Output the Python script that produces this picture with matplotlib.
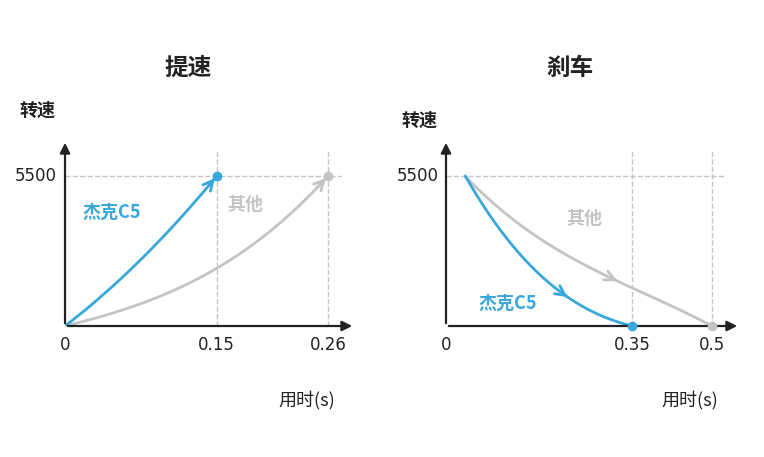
import numpy as np
import matplotlib
matplotlib.use("Agg")
import matplotlib.pyplot as plt

plt.rcParams['font.family'] = ['Noto Sans CJK SC', 'DejaVu Sans']

W, H = 764, 457
BLUE = '#3aa7dc'
GRAY = '#c4c4c6'
DARK = '#222222'

RPM = 5500

# 提速 (acceleration)
acc_jake_t = [0, 0.03, 0.06, 0.09, 0.12, 0.15]
acc_jake_v = [0, 900, 1900, 3000, 4200, 5500]
acc_other_t = [0, 0.05, 0.10, 0.15, 0.20, 0.26]
acc_other_v = [0, 500, 1200, 2100, 3400, 5500]
acc_ticks = [0, 0.15, 0.26]
acc_labels = ['0', '0.15', '0.26']

# 刹车 (braking)
brk_jake_t = [0.036, 0.083, 0.139, 0.214, 0.289, 0.35]
brk_jake_v = [5500, 4070, 2600, 1280, 400, 0]
brk_other_t = [0.036, 0.139, 0.252, 0.365, 0.5]
brk_other_v = [5500, 3700, 2350, 1250, 0]
brk_ticks = [0, 0.35, 0.5]
brk_labels = ['0', '0.35', '0.5']


def smooth(t, v, n=60):
    # smooth polyline through the read points
    t = np.asarray(t); v = np.asarray(v)
    deg = min(3, len(t) - 1)
    p = np.polyfit(t, v, deg)
    tt = np.linspace(t[0], t[-1], n)
    vv = np.polyval(p, tt)
    vv[0], vv[-1] = v[0], v[-1]
    return tt, vv


def fx(px):
    return px / W


def fy(py):
    return 1 - py / H


fig = plt.figure(figsize=(W / 100, H / 100), dpi=100)


def make_axes(x0, x1, xmax):
    ax = fig.add_axes([fx(x0), fy(326), (x1 - x0) / W, 186 / H])
    ax.set_xlim(0, xmax)
    ax.set_ylim(0, RPM * 186 / 150)
    ax.axis('off')
    kw = dict(arrowstyle='-|>,head_length=0.6,head_width=0.3', color=DARK, lw=1.6)
    ax.annotate('', xy=(xmax, 0), xytext=(0, 0), arrowprops=kw, annotation_clip=False)
    ax.annotate('', xy=(0, RPM * 186 / 150), xytext=(0, 0), arrowprops=kw, annotation_clip=False)
    ax.axhline(RPM, color=GRAY, ls='--', lw=1, xmax=0.95)
    return ax


def curve(ax, t, v, color, arrow_at_end):
    tt, vv = smooth(t, v)
    ax.plot(tt, vv, color=color, lw=2, solid_capstyle='round')
    if arrow_at_end:
        i = len(tt) - 4
        ax.annotate('', xy=(tt[-1], vv[-1]), xytext=(tt[i], vv[i]),
                    arrowprops=dict(arrowstyle='->,head_length=0.7,head_width=0.35', color=color, lw=2))
    else:
        i = len(tt) * 3 // 5
        ax.annotate('', xy=(tt[i + 1], vv[i + 1]), xytext=(tt[i - 1], vv[i - 1]),
                    arrowprops=dict(arrowstyle='->,head_length=0.7,head_width=0.35', color=color, lw=2))
    end = (tt[-1], vv[-1])
    ax.plot(*end, 'o', color=color, ms=6, clip_on=False, zorder=5)


# left
ax1 = make_axes(65, 355, 0.26 * 290 / 263)
for x in acc_ticks[1:]:
    ax1.axvline(x, color=GRAY, ls='--', lw=1, ymax=0.95)
curve(ax1, acc_other_t, acc_other_v, GRAY, True)
curve(ax1, acc_jake_t, acc_jake_v, BLUE, True)
for x, s in zip(acc_ticks, acc_labels):
    ax1.text(x, -350, s, ha='center', va='top', fontsize=12, color=DARK, family='DejaVu Sans')

# right
ax2 = make_axes(446, 740, 0.5 * 294 / 266)
for x in brk_ticks[1:]:
    ax2.axvline(x, color=GRAY, ls='--', lw=1, ymax=0.95)
curve(ax2, brk_other_t, brk_other_v, GRAY, False)
curve(ax2, brk_jake_t, brk_jake_v, BLUE, False)
for x, s in zip(brk_ticks, brk_labels):
    ax2.text(x, -350, s, ha='center', va='top', fontsize=12, color=DARK, family='DejaVu Sans')

# texts
fig.text(fx(188), fy(68), '提速', ha='center', va='center', fontsize=17, weight='bold', color=DARK)
fig.text(fx(570), fy(68), '刹车', ha='center', va='center', fontsize=17, weight='bold', color=DARK)
fig.text(fx(38), fy(110), '转速', ha='center', va='center', fontsize=13, weight='bold', color=DARK)
fig.text(fx(420), fy(120), '转速', ha='center', va='center', fontsize=13, weight='bold', color=DARK)
fig.text(fx(36), fy(176), '5500', ha='center', va='center', fontsize=12, color=DARK, family='DejaVu Sans')
fig.text(fx(418), fy(176), '5500', ha='center', va='center', fontsize=12, color=DARK, family='DejaVu Sans')
fig.text(fx(307), fy(400), '用时(s)', ha='center', va='center', fontsize=13, color=DARK)
fig.text(fx(690), fy(400), '用时(s)', ha='center', va='center', fontsize=13, color=DARK)
fig.text(fx(112), fy(212), '杰克C5', ha='center', va='center', fontsize=13, weight='bold', color=BLUE)
fig.text(fx(245), fy(204), '其他', ha='center', va='center', fontsize=13, weight='bold', color=GRAY)
fig.text(fx(584), fy(218), '其他', ha='center', va='center', fontsize=13, weight='bold', color=GRAY)
fig.text(fx(508), fy(303), '杰克C5', ha='center', va='center', fontsize=13, weight='bold', color=BLUE)

fig.savefig('out.png', dpi=100, facecolor='white')
